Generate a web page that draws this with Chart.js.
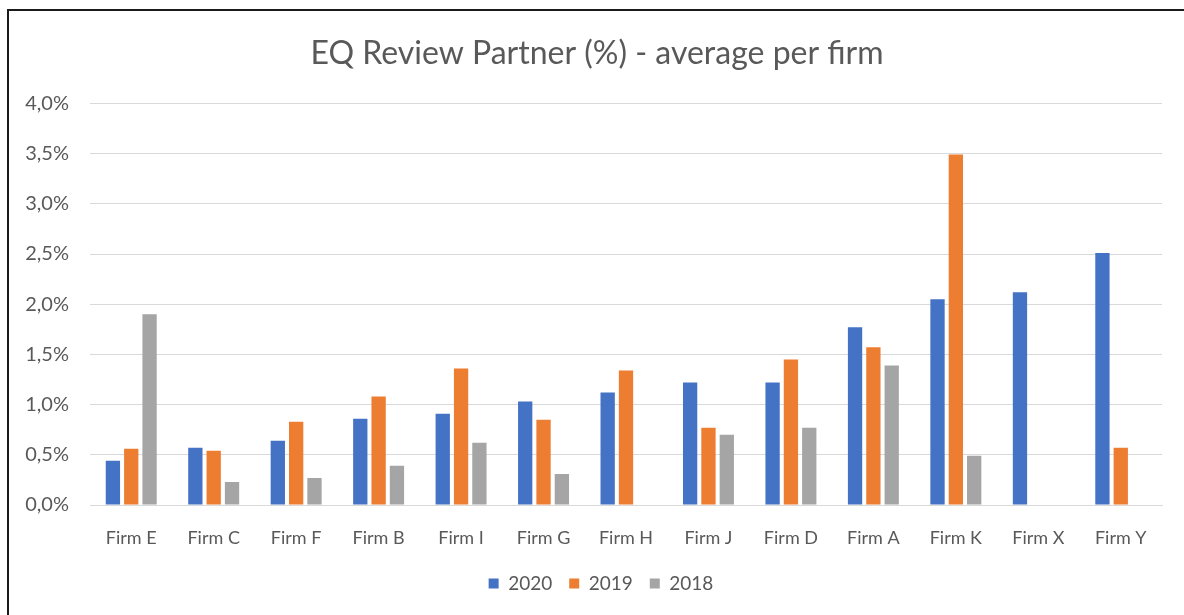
<!DOCTYPE html>
<html>
<head>
<meta charset="utf-8">
<script src="https://cdn.jsdelivr.net/npm/chart.js@4/dist/chart.umd.min.js"></script>
<style>
  html, body { margin: 0; padding: 0; background: #fff; overflow: hidden; }
  #wrap { position: relative; width: 1184px; height: 615px; overflow: hidden; }
  #frame { position: absolute; left: 7px; top: 9px; width: 1200px; height: 640px;
           border-left: 2px solid #1b1b1b; border-top: 2px solid #1b1b1b; pointer-events: none; }
</style>
</head>
<body>
<div id="wrap">
  <canvas id="myBarChart"></canvas>
  <div id="frame"></div>
</div>
<script>
// data (values in %)
const firms = ['Firm E','Firm C','Firm F','Firm B','Firm I','Firm G','Firm H','Firm J','Firm D','Firm A','Firm K','Firm X','Firm Y'];
const values2020 = [0.44, 0.57, 0.64, 0.86, 0.91, 1.03, 1.12, 1.22, 1.22, 1.77, 2.05, 2.12, 2.51];
const values2019 = [0.56, 0.54, 0.83, 1.08, 1.36, 0.85, 1.34, 0.77, 1.45, 1.57, 3.49, null, 0.57];
const values2018 = [1.90, 0.23, 0.27, 0.39, 0.62, 0.31, null, 0.70, 0.77, 1.39, 0.49, null, null];
const seriesLabels = ['2020','2019','2018'];
const seriesColors = ['#4472C4','#ED7D31','#A5A5A5'];

const textColor = '#595959';
const fontFamily = 'Lato, "Open Sans", sans-serif';

// nudge title + legend a bit to the right, like the original
const shiftBoxes = {
    id: 'shiftBoxes',
    afterLayout(chart){
        if(chart.titleBlock){ chart.titleBlock.left += 32; }
        if(chart.legend){ chart.legend.left += 40; }
    }
};

const loadChart =()=>{
    const ctx = document.getElementById('myBarChart').getContext('2d');
    const allValues = [values2020, values2019, values2018];

    const data = {
        labels: firms,
        datasets: allValues.map((vals, i) => ({
            label: seriesLabels[i],
            data: vals,
            backgroundColor: seriesColors[i],
            borderWidth: 0,
            categoryPercentage: 0.667,
            barPercentage: 0.78
        }))
    };

    const config = {
        type: 'bar',
        data: data,
        plugins: [shiftBoxes],
        options: {
            responsive: true,
            maintainAspectRatio: false,
            animation: false,
            layout: { padding: { top: 0, right: 22, bottom: 12, left: 0 } },
            plugins: {
                title: {
                    display: true,
                    text: 'EQ Review Partner (%) - average per firm',
                    color: textColor,
                    font: { family: fontFamily, size: 32, weight: 'normal' },
                    padding: { top: 34, bottom: 31 }
                },
                legend: {
                    position: 'bottom',
                    labels: {
                        color: textColor,
                        boxWidth: 10,
                        boxHeight: 10,
                        padding: 17,
                        font: { family: fontFamily, size: 19 }
                    }
                },
                tooltip: { enabled: false }
            },
            scales: {
                x: {
                    grid: { display: false, drawTicks: false },
                    border: { color: '#d9d9d9', width: 1 },
                    afterFit: (scale) => { scale.height = 52; },
                    ticks: {
                        color: textColor,
                        padding: 22,
                        maxRotation: 0,
                        font: { family: fontFamily, size: 18 }
                    }
                },
                y: {
                    min: 0,
                    max: 4,
                    grid: { color: '#d9d9d9', lineWidth: 1, drawTicks: false },
                    border: { display: false },
                    afterFit: (scale) => { scale.width = 90; },
                    ticks: {
                        stepSize: 0.5,
                        color: textColor,
                        padding: 21,
                        font: { family: fontFamily, size: 20 },
                        callback: (v) => v.toFixed(1).replace('.', ',') + '%'
                    }
                }
            }
        }
    };

    const myBarChart = new Chart(ctx, config);
}

loadChart();
</script>
</body>
</html>
